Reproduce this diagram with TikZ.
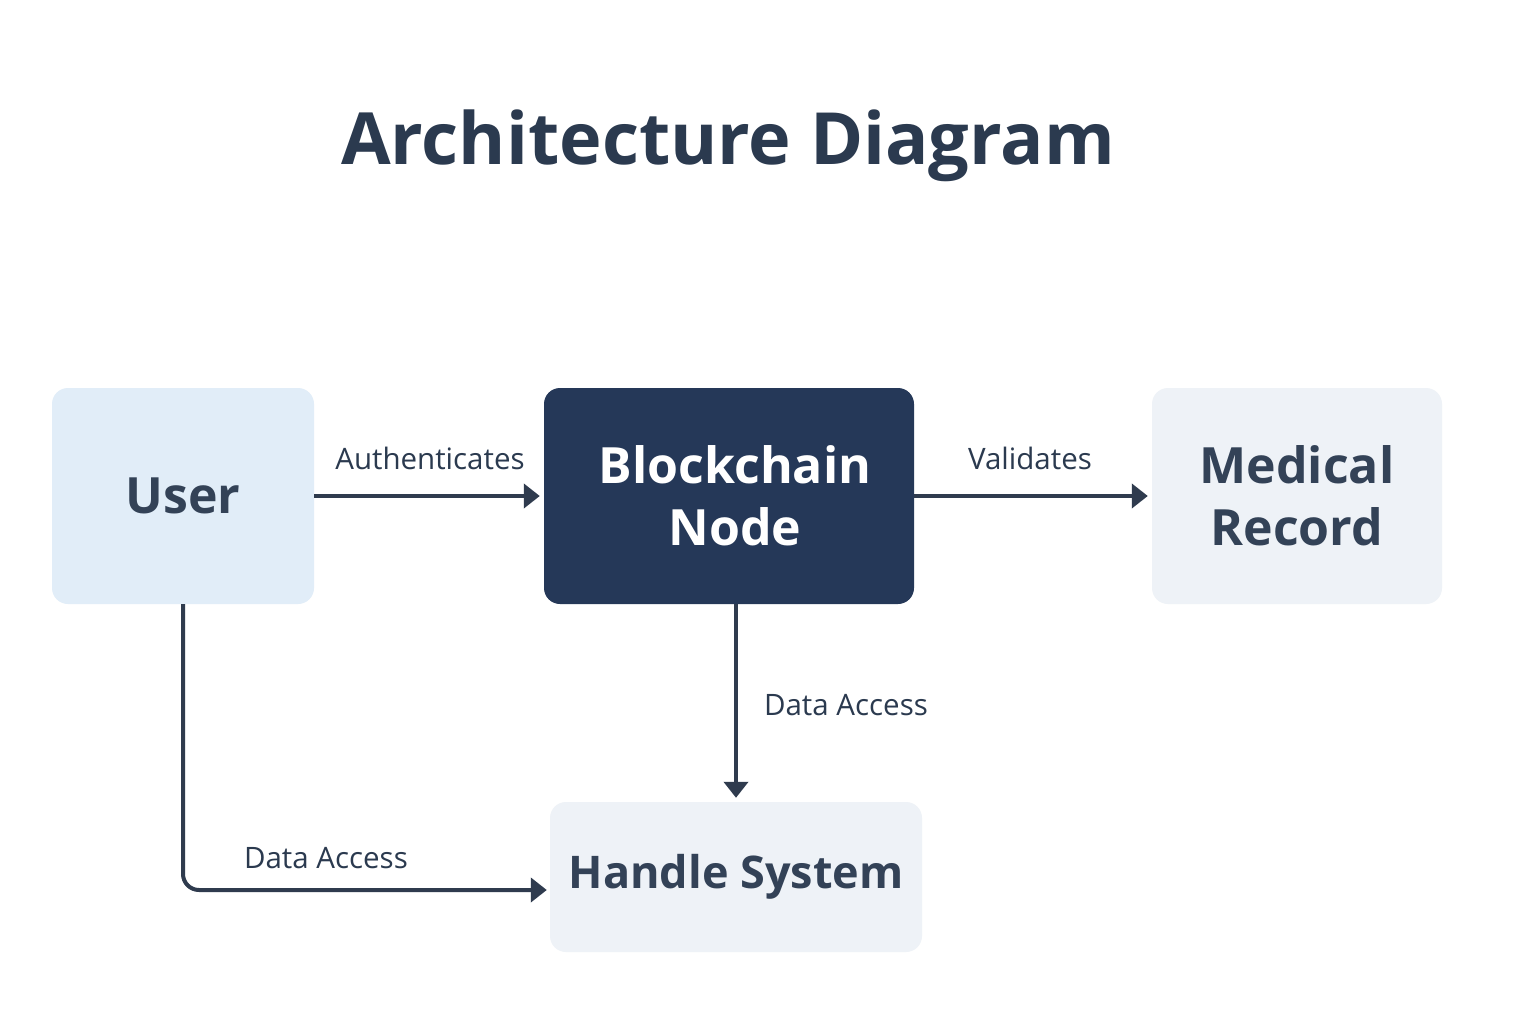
\documentclass[tikz,border=0pt]{standalone}
\usepackage{fontspec}
\setmainfont{Open Sans}
\usetikzlibrary{arrows.meta,calc}
\definecolor{txt}{HTML}{2B3A4F}
\definecolor{boxtxt}{HTML}{334257}
\definecolor{arr}{HTML}{2F3B4E}
\definecolor{navy}{HTML}{253858}
\definecolor{userfill}{HTML}{E1EDF8}
\definecolor{lightfill}{HTML}{EEF2F7}
\tikzset{
  box/.style={rounded corners=16pt, inner sep=0pt, align=center, font=\fontsize{50}{62}\selectfont\bfseries, text=boxtxt},
  conn/.style={draw=arr, line width=4pt, -{Triangle[length=16pt,width=24pt]}},
  elabel/.style={font=\fontsize{29.5}{34}\selectfont, text=txt, inner sep=0pt},
}
\begin{document}
\begin{tikzpicture}[x=1pt,y=-1pt]
\useasboundingbox (0,0) rectangle (1536,1024);
\fill[white] (0,0) rectangle (1536,1024);
\node[font=\fontsize{72}{84}\selectfont\bfseries, text=txt] (title) at (728,146) {Architecture Diagram};
\node[box, fill=userfill, minimum width=262pt, minimum height=216pt] (user) at (183,496) {User};
\node[box, fill=navy, text=white, minimum width=370pt, minimum height=216pt] (bc) at (729,496) {\hspace*{12pt}Blockchain\\\hspace*{12pt}Node};
\node[box, fill=lightfill, minimum width=290pt, minimum height=216pt] (med) at (1297,496) {Medical\\Record};
\node[box, fill=lightfill, minimum width=372pt, minimum height=150pt, font=\fontsize{45}{54}\selectfont\bfseries] (hs) at (736,877) {Handle System};
\draw[conn, shorten >=4pt] (user.east) -- (bc.west);
\draw[conn, shorten >=4pt] (bc.east) -- (med.west);
\draw[conn, shorten >=4pt] (bc.south -| hs.north) -- (hs.north);
\draw[conn, rounded corners=16pt, shorten >=3pt] (user.south) |- ([yshift=-13pt]hs.west);
\node[elabel] (l1) at (430,458) {Authenticates};
\node[elabel] (l2) at (1030,458) {Validates};
\node[elabel] (l3) at (846,705) {Data Access};
\node[elabel] (l4) at (326,858) {Data Access};
\end{tikzpicture}
\end{document}
